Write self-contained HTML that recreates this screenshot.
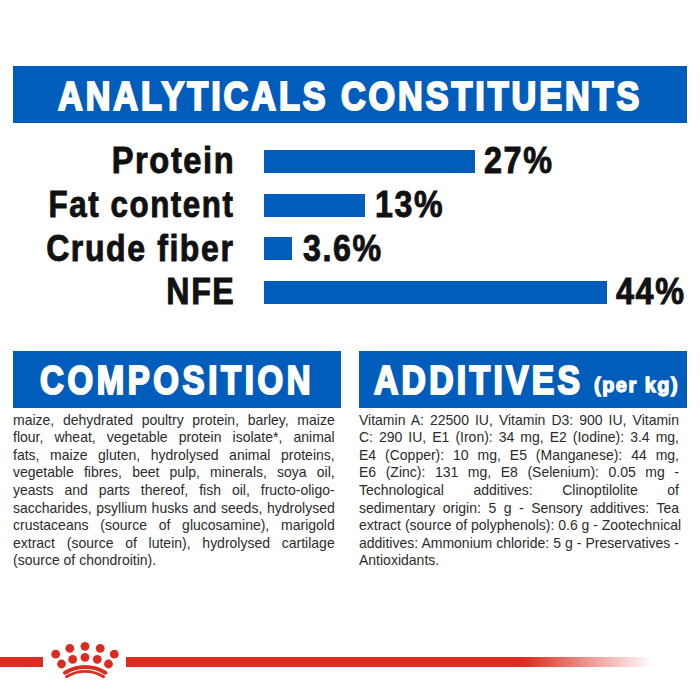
<!DOCTYPE html>
<html>
<head>
<meta charset="utf-8">
<style>
html,body{margin:0;padding:0;background:#fff;}
body{width:700px;height:700px;position:relative;overflow:hidden;font-family:"Liberation Sans",sans-serif;}
.abs{position:absolute;white-space:nowrap;line-height:1;}
.blue{background:#005dbb;}
.box{position:absolute;}
.hd{color:#fff;font-weight:bold;transform-origin:0 0;-webkit-text-stroke:2.2px #fff;}
.h4s{-webkit-text-stroke:1.3px #fff;}
.lbl{color:#111;font-weight:bold;transform-origin:100% 0;text-align:right;-webkit-text-stroke:0.9px #111;}
.val{color:#111;font-weight:bold;transform-origin:0 0;-webkit-text-stroke:0.9px #111;}
.txt{position:absolute;font-size:14.5px;line-height:17.6px;color:#2b2b2b;transform-origin:0 0;}
.txt div{text-align:justify;text-align-last:justify;white-space:nowrap;}
.txt div.last{text-align-last:left;}
</style>
</head>
<body>
<div class="box blue" style="left:13px;top:66px;width:674px;height:57px;"></div>
<div class="abs hd" id="t1" style="left:58.00px;top:76.12px;font-size:40.5px;letter-spacing:3.5px;transform:scaleX(0.8438);">ANALYTICALS CONSTITUENTS</div>
<div class="abs lbl" id="l1" style="right:464.62px;top:143.30px;font-size:36.5px;letter-spacing:1.8px;transform:scaleX(0.8940);">Protein</div>
<div class="abs lbl" id="l2" style="right:465.68px;top:186.50px;font-size:36.5px;letter-spacing:1.8px;transform:scaleX(0.8586);">Fat content</div>
<div class="abs lbl" id="l3" style="right:465.03px;top:230.60px;font-size:36.5px;letter-spacing:1.8px;transform:scaleX(0.8782);">Crude fiber</div>
<div class="abs lbl" id="l4" style="right:464.66px;top:274.00px;font-size:36.5px;letter-spacing:1.8px;transform:scaleX(0.8811);">NFE</div>
<div class="box blue" style="left:264px;top:150px;width:211px;height:23px;"></div>
<div class="box blue" style="left:264px;top:194px;width:101px;height:23px;"></div>
<div class="box blue" style="left:264px;top:237px;width:28px;height:23px;"></div>
<div class="box blue" style="left:264px;top:281px;width:343px;height:23px;"></div>
<div class="abs val" id="v1" style="left:484.01px;top:143.00px;font-size:36.5px;letter-spacing:1.8px;transform:scaleX(0.8869);">27%</div>
<div class="abs val" id="v2" style="left:375.46px;top:186.50px;font-size:36.5px;letter-spacing:1.8px;transform:scaleX(0.8812);">13%</div>
<div class="abs val" id="v3" style="left:303.01px;top:230.50px;font-size:36.5px;letter-spacing:1.8px;transform:scaleX(0.8819);">3.6%</div>
<div class="abs val" id="v4" style="left:616.00px;top:274.00px;font-size:36.5px;letter-spacing:1.8px;transform:scaleX(0.8870);">44%</div>
<div class="box blue" style="left:13px;top:351px;width:328px;height:57px;"></div>
<div class="abs hd" id="h2" style="left:39.74px;top:360.02px;font-size:40.5px;letter-spacing:4.5px;transform:scaleX(0.8123);">COMPOSITION</div>
<div class="box blue" style="left:359px;top:351px;width:328px;height:57px;"></div>
<div class="abs hd" id="h3" style="left:374.00px;top:360.02px;font-size:40.5px;letter-spacing:4px;transform:scaleX(0.8306);">ADDITIVES</div>
<div class="abs hd h4s" id="h4" style="left:594.00px;top:374.95px;font-size:20.5px;letter-spacing:1.6px;transform:scaleX(0.9675);">(per kg)</div>
<div class="txt" id="c1" style="left:13px;top:411.64px;width:333.21px;transform:scale(0.9655,1);">
<div>maize, dehydrated poultry protein, barley, maize</div>
<div>flour, wheat, vegetable protein isolate*, animal</div>
<div>fats, maize gluten, hydrolysed animal proteins,</div>
<div>vegetable fibres, beet pulp, minerals, soya oil,</div>
<div>yeasts and parts thereof, fish oil, fructo-oligo-</div>
<div>saccharides, psyllium husks and seeds, hydrolysed</div>
<div>crustaceans (source of glucosamine), marigold</div>
<div>extract (source of lutein), hydrolysed cartilage</div>
<div class="last">(source of chondroitin).</div>
</div>
<div class="txt" id="c2" style="left:359px;top:411.64px;width:331.43px;transform:scale(0.9655,1);">
<div>Vitamin A: 22500 IU, Vitamin D3: 900 IU, Vitamin</div>
<div>C: 290 IU, E1 (Iron): 34 mg, E2 (Iodine): 3.4 mg,</div>
<div>E4 (Copper): 10 mg, E5 (Manganese): 44 mg,</div>
<div>E6 (Zinc): 131 mg, E8 (Selenium): 0.05 mg -</div>
<div>Technological additives: Clinoptilolite of</div>
<div>sedimentary origin: 5 g - Sensory additives: Tea</div>
<div>extract (source of polyphenols): 0.6 g - Zootechnical</div>
<div>additives: Ammonium chloride: 5 g - Preservatives -</div>
<div class="last">Antioxidants.</div>
</div>
<div class="box" style="left:0;top:656.5px;width:43.3px;height:10.8px;background:#dc2b20;"></div>
<div class="box" style="left:126px;top:656.5px;width:527px;height:10.8px;background:linear-gradient(to right,#dc2b20 0,#dc2b20 397px,#dc2b2000 527px);"></div>
<svg class="box" style="left:40px;top:635px;" width="90" height="50" viewBox="0 0 90 50">
<g fill="#dc2b20">
<circle cx="15.7" cy="19.2" r="4.4"/>
<circle cx="29.8" cy="13.3" r="4.4"/>
<circle cx="45" cy="11.3" r="4.4"/>
<circle cx="60.2" cy="13.3" r="4.4"/>
<circle cx="74.3" cy="19.2" r="4.4"/>
<circle cx="21.5" cy="29" r="4.4"/>
<circle cx="32.7" cy="24.3" r="4.4"/>
<circle cx="45" cy="22.4" r="4.4"/>
<circle cx="57.3" cy="24.3" r="4.4"/>
<circle cx="68.5" cy="29" r="4.4"/>
</g>
<g fill="none" stroke="#dc2b20" stroke-linecap="round">
<path d="M25 37.7 A38.6 38.6 0 0 1 65.4 37.7" stroke-width="4"/>
<path d="M26.5 41.7 A34.8 34.8 0 0 1 63.6 41.7" stroke-width="2.8"/>
</g>
</svg>
</body>
</html>
